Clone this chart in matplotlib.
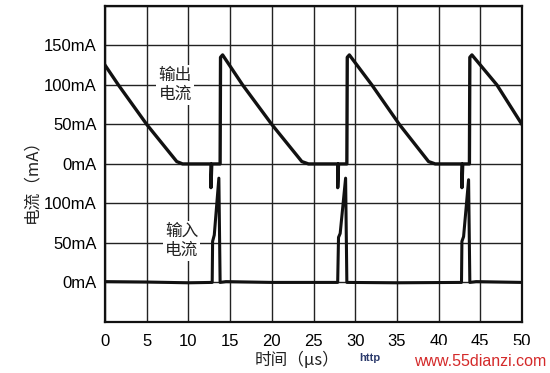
import numpy as np
import matplotlib
matplotlib.use('Agg')
import matplotlib.pyplot as plt

plt.rcParams['font.family'] = ['Liberation Sans', 'Noto Sans CJK SC', 'DejaVu Sans']
cjk = ['Noto Sans CJK SC', 'DejaVu Sans']

# output current (upper trace), time in us, current in mA
out_t = [0, 1.6, 5.0, 8.6, 9.3, 12.7, 12.7, 12.8, 13.8, 13.85, 14.1, 16.5, 20.0, 23.6, 24.4,
         27.9, 27.9, 28.0, 29.0, 29.05, 29.3, 32.0, 35.3, 38.8, 39.6,
         42.8, 42.8, 42.9, 43.7, 43.75, 44.0, 47.0, 50]
out_i = [125, 100, 50, 3, 0, 0, -30, 0, 0, 135, 138, 100, 50, 3, 0,
         0, -30, 0, 0, 135, 138, 100, 50, 3, 0,
         0, -30, 0, 0, 135, 138, 100, 50]

# input current (lower trace)
in_t = [0, 5, 10, 12.85, 12.9, 13.1, 13.65, 13.8, 14.5, 20, 27.9, 28.0, 28.2, 28.85, 29.0,
        35, 42.75, 42.8, 43.0, 43.6, 43.75, 44.5, 50]
in_i = [1, 0.5, -0.5, 0, 52, 60, 132, 0, 1, 0, 0, 57, 62, 132, 0,
        -0.5, 0, 52, 58, 130, 0, 1, 0]

# vertical layout: 8 divisions, 50 mA per division
mA_per_div = 50
out_zero = 4
in_zero = 1
ytick_pos = [1, 2, 3, 4, 5, 6, 7]
ytick_labels = ['0mA', '50mA', '100mA', '0mA', '50mA', '100mA', '150mA']
xticks = np.arange(0, 51, 5)

fig = plt.figure(figsize=(5.5, 3.73), dpi=100)
ax = fig.add_axes([0.191, 0.137, 0.758, 0.847])

out_y = out_zero + np.array(out_i) / mA_per_div
in_y = in_zero + np.array(in_i) / mA_per_div
ax.plot(out_t, out_y, color='#111111', lw=2.4, solid_joinstyle='round', zorder=3)
ax.plot(in_t, in_y, color='#111111', lw=2.2, solid_joinstyle='round', zorder=3)

ax.set_xlim(0, 50)
ax.set_ylim(0, 8)
ax.set_xticks(xticks)
ax.set_xticklabels([str(v) for v in xticks], fontsize=12)
ax.set_yticks(ytick_pos)
ax.set_yticklabels(ytick_labels, fontsize=12)
ax.set_yticks(range(0, 9), minor=True)
ax.grid(True, which='both', color='#222222', lw=1.0)
ax.tick_params(length=0, which='both')
ax.tick_params(axis='x', pad=9)
ax.tick_params(axis='y', pad=6)
for s in ax.spines.values():
    s.set_linewidth(1.6)
    s.set_color('#111111')

box = dict(facecolor='white', edgecolor='none', pad=1.5)
ax.text(8.4, 6.0, '输出\n电流', family=cjk, fontsize=12, ha='center', va='center',
        linespacing=1.2, bbox=box, zorder=4, color='#222222')
ax.text(9.2, 2.05, '输入\n电流', family=cjk, fontsize=12, ha='center', va='center',
        linespacing=1.2, bbox=box, zorder=4, color='#222222')

ax.set_xlabel('时间（μs）', family=cjk, fontsize=12, color='#222222')
ax.xaxis.set_label_coords(0.46, -0.095)
ax.set_ylabel('电流（mA）', family=cjk, fontsize=12, color='#222222')
ax.yaxis.set_label_coords(-0.155, 0.46)

# watermark
fig.patches.append(plt.Rectangle((0.745, 0.0), 0.26, 0.075, transform=fig.transFigure,
                                 facecolor='white', edgecolor='none', zorder=5))
fig.text(0.673, 0.04, 'http', fontsize=8, fontweight='bold', color='#2b3a6b',
         ha='center', va='center', zorder=6)
fig.text(0.752, 0.03, 'www.55dianzi.com', fontsize=11.5, color='#d42a2a',
         ha='left', va='center', zorder=6)

fig.savefig('out.png', dpi=100)
